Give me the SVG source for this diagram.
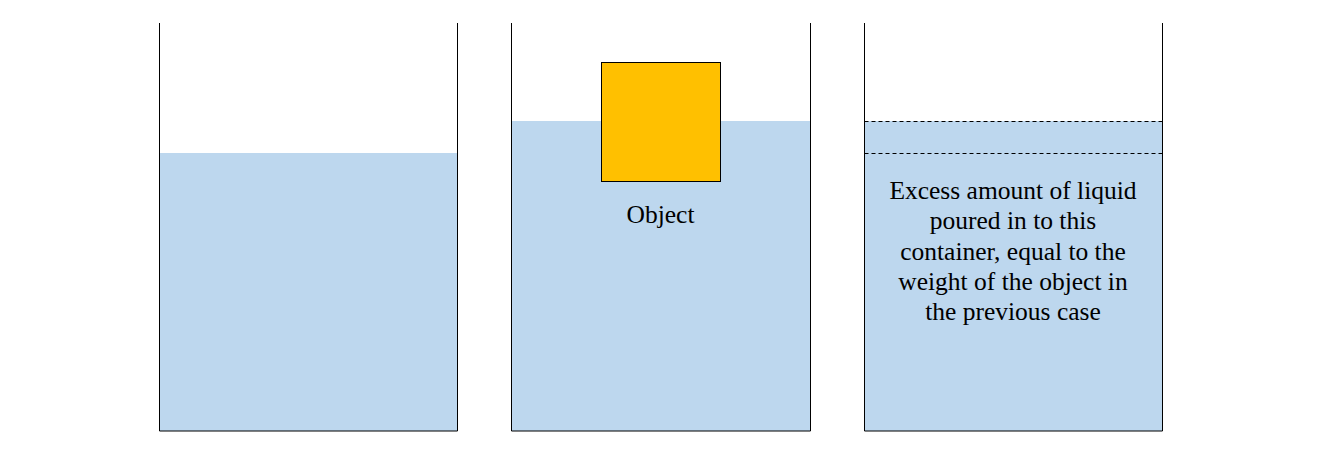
<svg xmlns="http://www.w3.org/2000/svg" width="1333" height="454" viewBox="0 0 1333 454">
<style>
.water{fill:#bdd7ee;stroke:none}
.wall{fill:none;stroke:#000;stroke-width:1}
.dash{fill:none;stroke:#000;stroke-width:1;stroke-dasharray:4,3}
.lbl{font-family:"Liberation Serif","Times New Roman",serif;font-size:25.5px;fill:#000;text-anchor:middle}
</style>
<rect width="1333" height="454" fill="#fff"/>
<g id="container1">
<rect class="water" x="159.5" y="153" width="298" height="278"/>
<path class="wall" d="M159.5,23 V431 H457.5 V23"/>
</g>
<g id="container2">
<rect class="water" x="511.5" y="121" width="299" height="310"/>
<path class="wall" d="M511.5,23 V431 H810.5 V23"/>
<rect id="object" x="601.5" y="62.5" width="119" height="119" fill="#ffc000" stroke="#000" stroke-width="1"/>
<text class="lbl" x="660.5" y="223">Object</text>
</g>
<g id="container3">
<rect class="water" x="864.5" y="121" width="298" height="310"/>
<path class="dash" d="M864.5,121.5 H1162.5 M864.5,153.5 H1162.5"/>
<path class="wall" d="M864.5,23 V431 H1162.5 V23"/>
<text class="lbl" x="1013" y="199">Excess amount of liquid</text>
<text class="lbl" x="1013" y="229">poured in to this</text>
<text class="lbl" x="1013" y="259.5">container, equal to the</text>
<text class="lbl" x="1013" y="289.5">weight of the object in</text>
<text class="lbl" x="1013" y="320">the previous case</text>
</g>
<g id="connectors"></g>
</svg>
